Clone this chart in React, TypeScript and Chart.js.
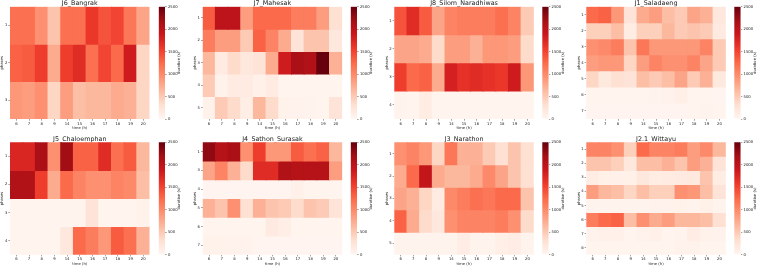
import React, { useEffect, useRef } from "react";
import { Chart, registerables } from "chart.js";

Chart.register(...registerables);

const hours = ["6", "7", "8", "9", "14", "15", "16", "17", "18", "19", "20"];
const colorbarTicks = [0, 500, 1000, 1500, 2000, 2500];
const maxDuration = 2500;
const redsStops = ["#fff5f0", "#fee0d2", "#fcbba1", "#fc9272", "#fb6a4a", "#ef3b2c", "#cb181d", "#a50f15", "#67000d"];

const j6Phases = ["1", "2", "3"];
const j6Durations = [
  [1200, 1200, 950, 550, 1200, 1200, 1600, 1400, 1500, 1150, 800],
  [1300, 1350, 1550, 750, 1550, 1700, 1200, 1500, 1250, 1850, 400],
  [900, 850, 950, 400, 850, 600, 650, 650, 750, 700, 400],
];
const j7Phases = ["1", "2", "3", "4", "5"];
const j7Durations = [
  [1350, 2000, 2000, 850, 1250, 1250, 1250, 1100, 1100, 850, 300],
  [1100, 850, 850, 500, 1300, 1050, 750, 250, 550, 550, 200],
  [650, 150, 350, 200, 250, 750, 1850, 2150, 2100, 2500, 700],
  [500, 50, 150, 150, 60, 150, 20, 20, 20, 20, 20],
  [50, 500, 350, 100, 650, 350, 50, 40, 30, 20, 250],
];
const j8Phases = ["1", "2", "3", "4"];
const j8Durations = [
  [1400, 1700, 1350, 800, 1050, 1100, 1100, 1100, 1200, 1050, 500],
  [800, 800, 750, 350, 850, 850, 700, 900, 900, 850, 350],
  [1550, 1250, 1300, 750, 1800, 1650, 1700, 1650, 1600, 1850, 900],
  [30, 20, 120, 20, 20, 20, 20, 20, 20, 20, 20],
];
const j1Phases = ["1", "2", "3", "4", "5", "6", "7"];
const j1Durations = [
  [1250, 1300, 900, 250, 750, 850, 600, 500, 800, 700, 200],
  [450, 450, 600, 120, 450, 450, 650, 500, 550, 500, 170],
  [950, 1000, 1100, 550, 1150, 900, 900, 900, 900, 1050, 500],
  [850, 900, 900, 400, 850, 1050, 950, 950, 1050, 800, 500],
  [400, 180, 300, 250, 600, 500, 600, 800, 500, 700, 180],
  [20, 20, 20, 20, 20, 30, 40, 90, 20, 20, 10],
  [10, 10, 10, 10, 10, 10, 10, 10, 20, 30, 20],
];
const j5Phases = ["1", "2", "3", "4"];
const j5Durations = [
  [1750, 1750, 2150, 950, 2200, 1300, 1300, 1700, 1200, 1350, 650],
  [2100, 2100, 1550, 750, 1250, 1050, 950, 950, 1050, 1000, 600],
  [20, 20, 20, 20, 30, 30, 250, 20, 20, 20, 50],
  [20, 20, 20, 20, 200, 1250, 1100, 900, 1350, 1200, 700],
];
const j4Phases = ["1", "3", "4", "5", "6", "7"];
const j4Durations = [
  [2300, 2050, 2150, 950, 1550, 900, 900, 1350, 1200, 1300, 650],
  [800, 1050, 700, 350, 1700, 1700, 2100, 2050, 2050, 2050, 850],
  [15, 15, 15, 15, 15, 15, 15, 60, 20, 20, 20],
  [700, 550, 950, 300, 700, 550, 500, 350, 550, 500, 250],
  [20, 20, 20, 20, 20, 170, 100, 20, 20, 20, 20],
  [50, 50, 40, 40, 10, 10, 10, 10, 10, 10, 10],
];
const j3Phases = ["1", "2", "3", "4", "5"];
const j3Durations = [
  [950, 1050, 900, 400, 1150, 700, 700, 500, 300, 550, 300],
  [750, 1250, 1950, 750, 650, 650, 750, 1000, 800, 550, 300],
  [800, 700, 400, 150, 1000, 1100, 1200, 1150, 1250, 1250, 550],
  [1300, 750, 350, 200, 950, 1050, 1050, 1050, 1100, 950, 350],
  [30, 30, 30, 30, 30, 130, 30, 30, 90, 130, 30],
];
const j2Phases = ["1", "2", "3", "4", "5", "6", "7", "8"];
const j2Durations = [
  [1050, 1050, 950, 450, 1250, 1050, 1050, 1100, 850, 1000, 650],
  [550, 550, 450, 200, 600, 600, 700, 550, 850, 700, 250],
  [120, 80, 70, 80, 200, 120, 150, 170, 180, 550, 120],
  [850, 650, 600, 400, 600, 450, 450, 950, 900, 600, 250],
  [30, 30, 30, 30, 30, 40, 40, 50, 30, 80, 30],
  [1100, 1250, 1300, 600, 950, 750, 850, 650, 650, 600, 300],
  [40, 70, 70, 20, 40, 60, 20, 30, 130, 50, 40],
  [20, 20, 20, 20, 20, 20, 20, 40, 40, 20, 20],
];

const panels = [
  { title: "J6_Bangrak", phases: j6Phases, durations: j6Durations, col: 0, row: 0 },
  { title: "J7_Mahesak", phases: j7Phases, durations: j7Durations, col: 1, row: 0 },
  { title: "J8_Silom_Naradhiwas", phases: j8Phases, durations: j8Durations, col: 2, row: 0 },
  { title: "J1_Saladaeng", phases: j1Phases, durations: j1Durations, col: 3, row: 0 },
  { title: "J5_Chaloemphan", phases: j5Phases, durations: j5Durations, col: 0, row: 1 },
  { title: "J4_Sathon_Surasak", phases: j4Phases, durations: j4Durations, col: 1, row: 1 },
  { title: "J3_Narathon", phases: j3Phases, durations: j3Durations, col: 2, row: 1 },
  { title: "J2.1_Wittayu", phases: j2Phases, durations: j2Durations, col: 3, row: 1 },
];

const plotLefts = [10, 202.7, 394.3, 586.3];
const barLefts = [158.7, 350.7, 542.3, 734.3];
const plotWidth = 139.5;
const barWidth = 6.3;
const rowTops = [6.7, 142.3];
const plotHeights = [112.3, 112.4];
const canvasTops = [0, 136];
const canvasHeight = 131;
const leftGutter = 10;
const FONT = "'DejaVu Sans'";
const TEXT = "#1a1a1a";
const TICK_SIZE = 3.8;

function hexToRgb(h: string) {
  return [parseInt(h.slice(1, 3), 16), parseInt(h.slice(3, 5), 16), parseInt(h.slice(5, 7), 16)];
}
function reds(v: number) {
  const t = (Math.min(Math.max(v, 0), maxDuration) / maxDuration) * (redsStops.length - 1);
  const i = Math.min(Math.floor(t), redsStops.length - 2);
  const a = hexToRgb(redsStops[i]);
  const b = hexToRgb(redsStops[i + 1]);
  const f = t - i;
  return `rgb(${a.map((c, k) => Math.round(c + (b[k] - c) * f)).join(",")})`;
}

const canvasStyle = (left: number, top: number): React.CSSProperties => ({
  position: "absolute",
  left,
  top,
  display: "block",
  filter: "blur(0.2px)",
});

function Heatmap({ panel }: { panel: (typeof panels)[number] }) {
  const ref = useRef<HTMLCanvasElement>(null);
  const rawLeft = plotLefts[panel.col] - leftGutter;
  const canvasLeft = Math.floor(rawLeft);
  const padLeft = rawLeft - canvasLeft;
  const canvasWidth = Math.ceil(padLeft + leftGutter + plotWidth);
  const top = rowTops[panel.row] - canvasTops[panel.row];
  const belowPlot = canvasHeight - top - plotHeights[panel.row];
  useEffect(() => {
    const titleSize = 6.4;
    const chart = new Chart(ref.current!, {
      type: "bar",
      data: {
        labels: hours,
        datasets: panel.phases.map((phase, i) => ({
          label: phase,
          data: panel.durations[i].map(() => [i, i + 1]) as any,
          backgroundColor: panel.durations[i].map(reds),
          borderWidth: 0,
          inflateAmount: 0.5,
          barPercentage: 1,
          categoryPercentage: 1,
          grouped: false,
        })),
      },
      options: {
        responsive: false,
        maintainAspectRatio: false,
        animation: false,
        devicePixelRatio: 1,
        layout: {
          padding: {
            left: padLeft,
            right: canvasWidth - padLeft - leftGutter - plotWidth,
            top: 0,
            bottom: belowPlot - 11.5,
          },
        },
        plugins: {
          legend: { display: false },
          tooltip: { enabled: false },
          title: {
            display: true,
            text: panel.title,
            fullSize: false,
            color: TEXT,
            font: { family: FONT, size: titleSize, weight: "normal", lineHeight: 1 },
            padding: { top: 0, bottom: top - titleSize },
          },
        },
        scales: {
          x: {
            type: "category",
            offset: true,
            border: { display: false },
            grid: { display: true, drawOnChartArea: false, drawTicks: true, tickLength: 1.7, tickColor: TEXT, tickWidth: 0.4, offset: false },
            ticks: { color: TEXT, font: { family: FONT, size: TICK_SIZE }, padding: 0.8, maxRotation: 0, autoSkip: false },
            title: { display: true, text: "time (h)", color: TEXT, font: { family: FONT, size: TICK_SIZE }, padding: 0 },
            afterFit: (s: any) => {
              s.height = 11.5;
              s.paddingLeft = 0;
              s.paddingRight = 0;
            },
          },
          y: {
            type: "linear",
            reverse: true,
            min: 0,
            max: panel.phases.length,
            border: { display: false },
            grid: { display: true, drawOnChartArea: false, drawTicks: true, tickLength: 1.7, tickColor: TEXT, tickWidth: 0.4 },
            afterBuildTicks: (s: any) => {
              s.ticks = panel.phases.map((_, i) => ({ value: i + 0.5 }));
            },
            ticks: {
              color: TEXT,
              font: { family: FONT, size: TICK_SIZE },
              padding: 1,
              autoSkip: false,
              callback: (v: any) => panel.phases[Math.floor(Number(v))],
            },
            title: { display: true, text: "phases", color: TEXT, font: { family: FONT, size: TICK_SIZE }, padding: 0 },
            afterFit: (s: any) => {
              s.width = leftGutter;
              s.paddingTop = 0;
              s.paddingBottom = 0;
            },
          },
        },
      } as any,
    });
    return () => chart.destroy();
  }, []);
  return <canvas ref={ref} width={canvasWidth} height={canvasHeight} style={canvasStyle(canvasLeft, canvasTops[panel.row])} />;
}

function Colorbar({ panel }: { panel: (typeof panels)[number] }) {
  const ref = useRef<HTMLCanvasElement>(null);
  const raw = barLefts[panel.col];
  const canvasLeft = Math.floor(raw);
  const padLeft = raw - canvasLeft;
  const canvasWidth = 24;
  const top = rowTops[panel.row] - canvasTops[panel.row];
  const bottom = canvasHeight - top - plotHeights[panel.row];
  useEffect(() => {
    const chart = new Chart(ref.current!, {
      type: "bar",
      data: {
        labels: ["duration"],
        datasets: [
          {
            data: [[0, maxDuration]] as any,
            borderWidth: 0,
            barPercentage: 1,
            categoryPercentage: 1,
            backgroundColor: (ctx: any) => {
              const area = ctx.chart.chartArea;
              if (!area) return redsStops[0];
              const g = ctx.chart.ctx.createLinearGradient(0, area.bottom, 0, area.top);
              redsStops.forEach((c, i) => g.addColorStop(i / (redsStops.length - 1), c));
              return g;
            },
          },
        ],
      },
      options: {
        responsive: false,
        maintainAspectRatio: false,
        animation: false,
        devicePixelRatio: 1,
        layout: { padding: { left: padLeft, right: 0, top, bottom } },
        plugins: { legend: { display: false }, tooltip: { enabled: false }, title: { display: false } },
        scales: {
          x: { display: false, type: "category", offset: true },
          y: {
            type: "linear",
            position: "right",
            min: 0,
            max: maxDuration,
            border: { display: false },
            grid: { display: true, drawOnChartArea: false, drawTicks: true, tickLength: 1.7, tickColor: TEXT, tickWidth: 0.4 },
            afterBuildTicks: (s: any) => {
              s.ticks = colorbarTicks.map((value) => ({ value }));
            },
            ticks: {
              color: TEXT,
              font: { family: FONT, size: TICK_SIZE },
              padding: 1.2,
              autoSkip: false,
              callback: (v: any) => String(v),
            },
            afterFit: (s: any) => {
              s.width = canvasWidth - padLeft - barWidth;
              s.paddingTop = 0;
              s.paddingBottom = 0;
            },
          },
        },
      } as any,
      plugins: [
        {
          id: "colorbarLabel",
          afterDraw(c: any) {
            const a = c.chartArea;
            const g = c.ctx;
            g.save();
            g.translate(a.right + 14.3, (a.top + a.bottom) / 2);
            g.rotate(-Math.PI / 2);
            g.font = `${TICK_SIZE}px ${FONT}`;
            g.fillStyle = TEXT;
            g.textAlign = "center";
            g.textBaseline = "middle";
            g.fillText("duration (s)", 0, 0);
            g.restore();
          },
        },
      ],
    });
    return () => chart.destroy();
  }, []);
  return <canvas ref={ref} width={canvasWidth} height={canvasHeight} style={canvasStyle(canvasLeft, canvasTops[panel.row])} />;
}

export default function App() {
  return (
    <div style={{ position: "absolute", left: 0, top: 0, width: 758, height: 267, overflow: "hidden", background: "#fff" }}>
      {panels.map((p) => (
        <React.Fragment key={p.title}>
          <Heatmap panel={p} />
          <Colorbar panel={p} />
        </React.Fragment>
      ))}
    </div>
  );
}
